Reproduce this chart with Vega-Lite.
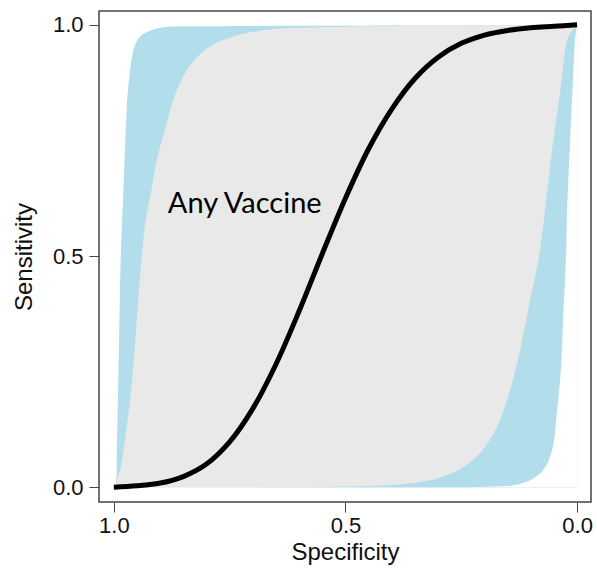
{
  "$schema": "https://vega.github.io/schema/vega-lite/v6.json",
  "width": 492,
  "height": 491,
  "autosize": {"type": "none"},
  "padding": {"left": 99, "top": 11, "right": 6, "bottom": 69},
  "background": "white",
  "config": {
    "view": {"stroke": "#444444", "strokeWidth": 1.5},
    "axis": {
      "labelFont": "Liberation Sans",
      "titleFont": "Liberation Sans",
      "labelFontSize": 22,
      "titleFontSize": 24,
      "titleFontWeight": "normal",
      "labelColor": "#111111",
      "titleColor": "#111111",
      "tickColor": "#444444",
      "tickSize": 10,
      "domain": false,
      "grid": false
    }
  },
  "data": {
    "values": [
      {"curve": "blueUpper", "s": 1, "v": 0},
      {"curve": "blueUpper", "s": 0.9957, "v": 0.009},
      {"curve": "blueUpper", "s": 0.9935, "v": 0.08},
      {"curve": "blueUpper", "s": 0.989, "v": 0.297},
      {"curve": "blueUpper", "s": 0.985, "v": 0.5},
      {"curve": "blueUpper", "s": 0.979, "v": 0.65},
      {"curve": "blueUpper", "s": 0.974, "v": 0.779},
      {"curve": "blueUpper", "s": 0.97, "v": 0.853},
      {"curve": "blueUpper", "s": 0.964, "v": 0.909},
      {"curve": "blueUpper", "s": 0.959, "v": 0.939},
      {"curve": "blueUpper", "s": 0.9525, "v": 0.961},
      {"curve": "blueUpper", "s": 0.9395, "v": 0.978},
      {"curve": "blueUpper", "s": 0.918, "v": 0.989},
      {"curve": "blueUpper", "s": 0.89, "v": 0.995},
      {"curve": "blueUpper", "s": 0.8, "v": 0.997},
      {"curve": "blueUpper", "s": 0.5, "v": 0.998},
      {"curve": "blueUpper", "s": 0.2, "v": 0.999},
      {"curve": "blueUpper", "s": 0, "v": 1},

      {"curve": "greyUpper", "s": 1, "v": 0},
      {"curve": "greyUpper", "s": 0.9957, "v": 0.009},
      {"curve": "greyUpper", "s": 0.985, "v": 0.043},
      {"curve": "greyUpper", "s": 0.974, "v": 0.117},
      {"curve": "greyUpper", "s": 0.961, "v": 0.225},
      {"curve": "greyUpper", "s": 0.95, "v": 0.368},
      {"curve": "greyUpper", "s": 0.9395, "v": 0.5},
      {"curve": "greyUpper", "s": 0.931, "v": 0.58},
      {"curve": "greyUpper", "s": 0.92, "v": 0.636},
      {"curve": "greyUpper", "s": 0.907, "v": 0.708},
      {"curve": "greyUpper", "s": 0.888, "v": 0.779},
      {"curve": "greyUpper", "s": 0.866, "v": 0.853},
      {"curve": "greyUpper", "s": 0.838, "v": 0.909},
      {"curve": "greyUpper", "s": 0.795, "v": 0.952},
      {"curve": "greyUpper", "s": 0.745, "v": 0.974},
      {"curve": "greyUpper", "s": 0.687, "v": 0.987},
      {"curve": "greyUpper", "s": 0.62, "v": 0.993},
      {"curve": "greyUpper", "s": 0.49, "v": 0.996},
      {"curve": "greyUpper", "s": 0.318, "v": 0.998},
      {"curve": "greyUpper", "s": 0.15, "v": 0.999},
      {"curve": "greyUpper", "s": 0, "v": 1},

      {"curve": "greyLower", "s": 1, "v": 0},
      {"curve": "greyLower", "s": 0.7, "v": 0},
      {"curve": "greyLower", "s": 0.49, "v": 0.002},
      {"curve": "greyLower", "s": 0.382, "v": 0.006},
      {"curve": "greyLower", "s": 0.3175, "v": 0.015},
      {"curve": "greyLower", "s": 0.281, "v": 0.026},
      {"curve": "greyLower", "s": 0.246, "v": 0.043},
      {"curve": "greyLower", "s": 0.2095, "v": 0.074},
      {"curve": "greyLower", "s": 0.173, "v": 0.13},
      {"curve": "greyLower", "s": 0.1447, "v": 0.21},
      {"curve": "greyLower", "s": 0.123, "v": 0.297},
      {"curve": "greyLower", "s": 0.1015, "v": 0.405},
      {"curve": "greyLower", "s": 0.082, "v": 0.5},
      {"curve": "greyLower", "s": 0.065, "v": 0.636},
      {"curve": "greyLower", "s": 0.052, "v": 0.745},
      {"curve": "greyLower", "s": 0.0367, "v": 0.853},
      {"curve": "greyLower", "s": 0.019, "v": 0.974},
      {"curve": "greyLower", "s": 0.0043, "v": 0.995},
      {"curve": "greyLower", "s": 0, "v": 1},

      {"curve": "blueLower", "s": 1, "v": 0},
      {"curve": "blueLower", "s": 0.3, "v": 0},
      {"curve": "blueLower", "s": 0.2095, "v": 0.0005},
      {"curve": "blueLower", "s": 0.138, "v": 0.004},
      {"curve": "blueLower", "s": 0.1015, "v": 0.015},
      {"curve": "blueLower", "s": 0.073, "v": 0.037},
      {"curve": "blueLower", "s": 0.054, "v": 0.08},
      {"curve": "blueLower", "s": 0.043, "v": 0.167},
      {"curve": "blueLower", "s": 0.0346, "v": 0.26},
      {"curve": "blueLower", "s": 0.03, "v": 0.368},
      {"curve": "blueLower", "s": 0.0238, "v": 0.5},
      {"curve": "blueLower", "s": 0.0216, "v": 0.6},
      {"curve": "blueLower", "s": 0.0151, "v": 0.745},
      {"curve": "blueLower", "s": 0.0086, "v": 0.887},
      {"curve": "blueLower", "s": 0.0043, "v": 0.97},
      {"curve": "blueLower", "s": 0, "v": 1},

      {"curve": "roc", "s": 1.0, "v": 0},
      {"curve": "roc", "s": 0.95, "v": 0.003},
      {"curve": "roc", "s": 0.9, "v": 0.009},
      {"curve": "roc", "s": 0.85, "v": 0.023},
      {"curve": "roc", "s": 0.8, "v": 0.05},
      {"curve": "roc", "s": 0.75, "v": 0.098},
      {"curve": "roc", "s": 0.7, "v": 0.17},
      {"curve": "roc", "s": 0.65, "v": 0.266},
      {"curve": "roc", "s": 0.6, "v": 0.381},
      {"curve": "roc", "s": 0.55, "v": 0.505},
      {"curve": "roc", "s": 0.5, "v": 0.625},
      {"curve": "roc", "s": 0.45, "v": 0.732},
      {"curve": "roc", "s": 0.4, "v": 0.818},
      {"curve": "roc", "s": 0.35, "v": 0.884},
      {"curve": "roc", "s": 0.3, "v": 0.93},
      {"curve": "roc", "s": 0.25, "v": 0.96},
      {"curve": "roc", "s": 0.2, "v": 0.978},
      {"curve": "roc", "s": 0.15, "v": 0.988},
      {"curve": "roc", "s": 0.1, "v": 0.994},
      {"curve": "roc", "s": 0.05, "v": 0.997},
      {"curve": "roc", "s": 0.0, "v": 1},

      {"curve": "label", "s": 0.8834, "v": 0.5931, "text": "Any Vaccine"}
    ]
  },
  "encoding": {
    "x": {
      "field": "s",
      "type": "quantitative",
      "title": "Specificity",
      "scale": {"domain": [-0.03, 1.032], "reverse": true, "nice": false, "zero": false},
      "axis": {"values": [0, 0.5, 1], "format": ".1f", "labelPadding": 3, "titlePadding": 4}
    },
    "y": {
      "field": "v",
      "type": "quantitative",
      "title": "Sensitivity",
      "scale": {"domain": [-0.032, 1.03], "nice": false, "zero": false},
      "axis": {"values": [0, 0.5, 1], "format": ".1f", "labelPadding": 6, "titlePadding": 16}
    }
  },
  "layer": [
    {
      "transform": [{"filter": "datum.curve === 'blueUpper'"}],
      "mark": {"type": "area", "color": "#b2deeb", "opacity": 1, "interpolate": "catmull-rom"},
      "encoding": {"y2": {"datum": 0}}
    },
    {
      "transform": [{"filter": "datum.curve === 'greyUpper'"}],
      "mark": {"type": "area", "color": "#e9e9e9", "opacity": 1, "interpolate": "catmull-rom"},
      "encoding": {"y2": {"datum": 0}}
    },
    {
      "transform": [{"filter": "datum.curve === 'greyLower'"}],
      "mark": {"type": "area", "color": "#b2deeb", "opacity": 1, "interpolate": "catmull-rom"},
      "encoding": {"y2": {"datum": 0}}
    },
    {
      "transform": [{"filter": "datum.curve === 'blueLower'"}],
      "mark": {"type": "area", "color": "#ffffff", "opacity": 1, "interpolate": "catmull-rom"},
      "encoding": {"y2": {"datum": 0}}
    },
    {
      "transform": [{"filter": "datum.curve === 'roc'"}],
      "mark": {"type": "line", "color": "#000000", "strokeWidth": 5, "strokeCap": "butt", "interpolate": "catmull-rom"},
      "encoding": {}
    },
    {
      "transform": [{"filter": "datum.curve === 'label'"}],
      "mark": {"type": "text", "align": "left", "baseline": "alphabetic", "font": "Lato", "fontSize": 29, "color": "#000000"},
      "encoding": {"text": {"field": "text"}}
    }
  ]
}
